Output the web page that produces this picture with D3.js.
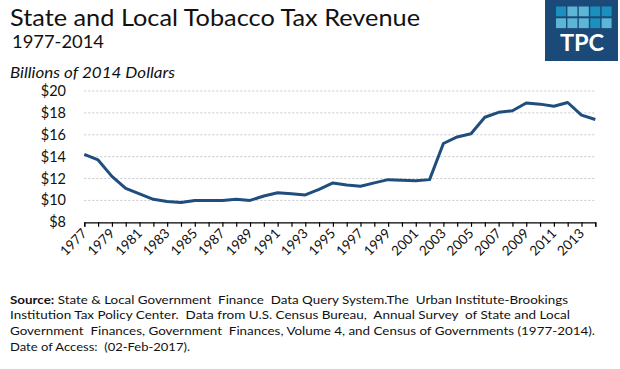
<!DOCTYPE html>
<html><head><meta charset="utf-8">
<script src="https://cdn.jsdelivr.net/npm/d3@7"></script>
<style>body{margin:0;background:#fff}svg{display:block}text{font-family:Lato,"Open Sans",sans-serif}</style>
</head><body><svg id="c" width="620" height="369"></svg>
<script>
const years = d3.range(1977, 2015);
const revenue = [14.2,13.7,12.2,11.1,10.6,10.1,9.9,9.8,10.0,10.0,10.0,10.1,10.0,10.4,10.7,10.6,10.5,11.0,
  11.6,11.4,11.3,11.6,11.9,11.85,11.8,11.9,15.2,15.8,16.1,17.6,18.05,18.2,18.9,18.8,18.6,18.95,17.8,17.4];
const yTicks = [8,10,12,14,16,18,20];
const title = "State and Local Tobacco Tax Revenue";
const subtitle = "1977-2014";
const unitLabel = "Billions of 2014 Dollars";
const sourceLines = [
  [["Source:", true], [" State & Local Government  Finance  Data Query System.The  Urban Institute-Brookings", false]],
  [["Institution Tax Policy Center.  Data from U.S. Census Bureau,  Annual Survey  of State and Local", false]],
  [["Government  Finances, Government  Finances, Volume 4, and Census of Governments (1977-2014).", false]],
  [["Date of Access:  (02-Feb-2017).", false]]
];
const sourceWidths = [558, 560, 585, 180];
const logoTiles = [
  ["d","l","l","d","d"],
  ["l","l","l","d","l"]
];

const svg = d3.select("#c");
const x = d3.scaleLinear().domain([1977, 2014]).range([84.3, 595.3]);
const y = d3.scaleLinear().domain([8, 20]).range([222.3, 91]);

// titles
svg.append("text").attr("x", 10).attr("y", 26).attr("font-size", 23).attr("fill", "#111")
  .attr("textLength", 410).attr("lengthAdjust", "spacingAndGlyphs").text(title);
svg.append("text").attr("x", 12).attr("y", 48).attr("font-size", 17).attr("fill", "#111")
  .attr("textLength", 92).attr("lengthAdjust", "spacingAndGlyphs").text(subtitle);
svg.append("text").attr("x", 10).attr("y", 77.5).attr("font-size", 15).attr("font-style", "italic").attr("fill", "#111")
  .attr("textLength", 165).attr("lengthAdjust", "spacingAndGlyphs").text(unitLabel);

// logo
const logo = svg.append("g");
logo.append("rect").attr("x", 545).attr("y", 0).attr("width", 73).attr("height", 61).attr("fill", "#1c4a78");
logoTiles.forEach((row, r) => row.forEach((c, i) => {
  logo.append("rect").attr("x", 556 + i * 11.4).attr("y", 6.5 + r * 11.8).attr("width", 10).attr("height", 9.8)
    .attr("fill", c === "d" ? "#1b8fbe" : "#5cb6d6");
}));
logo.append("text").attr("x", 582).attr("y", 50.5).attr("text-anchor", "middle").attr("font-size", 23.5)
  .attr("font-weight", "bold").attr("fill", "#fff").attr("font-family", "'Open Sans',sans-serif").text("TPC");

// grid
svg.append("g").selectAll("line").data(yTicks.filter(t => t > 8)).join("line")
  .attr("x1", x(1977)).attr("x2", x(2014)).attr("y1", d => y(d)).attr("y2", d => y(d))
  .attr("stroke", "#c8c8c8").attr("stroke-width", 1).attr("stroke-dasharray", "2,2");

// y axis labels
svg.append("g").selectAll("text").data(yTicks).join("text")
  .attr("x", 66).attr("y", d => y(d)).attr("dy", "0.35em").attr("text-anchor", "end")
  .attr("font-size", 14.5).attr("fill", "#111").text(d => "$" + d);

// x axis
const xAxis = d3.axisBottom(x).tickValues(years).tickSize(4.5).tickFormat(d => (d - 1977) % 2 === 0 ? String(d) : "");
const gx = svg.append("g").attr("transform", `translate(0,${y(8)})`).call(xAxis);
gx.select(".domain").attr("stroke", "#000").attr("stroke-width", 1.2);
gx.selectAll(".tick line").attr("stroke", "#000").attr("stroke-width", 1.2);
gx.selectAll(".tick text").attr("font-size", 13.5).attr("fill", "#111").attr("font-family", "Lato,sans-serif")
  .attr("text-anchor", "end").attr("dy", null).attr("y", 0)
  .attr("transform", "translate(3,12) rotate(-45)");

// line
svg.append("path").datum(revenue)
  .attr("fill", "none").attr("stroke", "#1f4e7e").attr("stroke-width", 3).attr("stroke-linejoin", "round")
  .attr("d", d3.line().x((d, i) => x(years[i])).y(d => y(d)));

// source
sourceLines.forEach((line, li) => {
  const t = svg.append("text").attr("font-size", 11.5).attr("fill", "#111")
    .attr("x", 10).attr("y", 303.5 + li * 15.7)
    .attr("textLength", sourceWidths[li]).attr("lengthAdjust", "spacingAndGlyphs")
    .attr("style", "white-space:pre");
  line.forEach(([s, b]) => {
    t.append("tspan").attr("font-weight", b ? "bold" : null).text(s);
  });
});
</script></body></html>
